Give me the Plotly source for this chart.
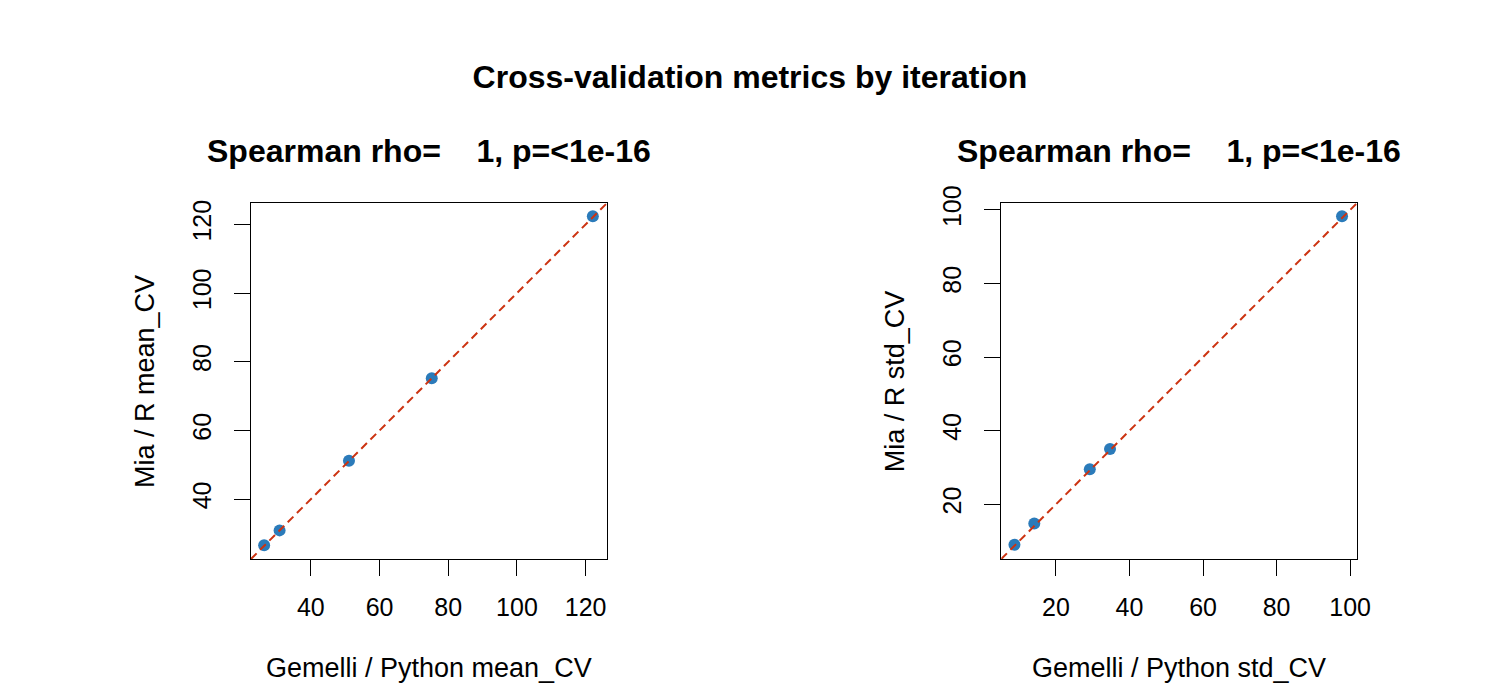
import plotly.graph_objects as go

# values
mean_python = [26.4, 30.9, 51.1, 75.2, 122.1]
mean_r = [26.6, 30.9, 51.2, 75.2, 122.4]
std_python = [8.7, 14.1, 29.2, 34.7, 97.8]
std_r = [9.0, 14.8, 29.5, 35.0, 98.3]

mean_ticks = [40, 60, 80, 100, 120]
std_ticks = [20, 40, 60, 80, 100]

panel_titles = ['Spearman rho=\u00a0\u00a0\u00a0\u00a01, p=<1e-16',
                'Spearman rho=\u00a0\u00a0\u00a0\u00a01, p=<1e-16']
x_labels = ['Gemelli / Python mean_CV', 'Gemelli / Python std_CV']
y_labels = ['Mia / R mean_CV', 'Mia / R std_CV']

FONT = 'Liberation Sans, Arial, sans-serif'
BLUE = '#2b7bba'
RED = '#cc3311'


def lims(a, b):
    lo = min(min(a), min(b))
    hi = max(max(a), max(b))
    d = (hi - lo) * 0.04
    return [lo - d, hi + d]


fig = go.Figure()

panels = [
    (mean_python, mean_r, mean_ticks, [0.1673, 0.4047]),
    (std_python, std_r, std_ticks, [0.6675, 0.9047]),
]
ydom = [0.2014, 0.71]

for i, (xv, yv, ticks, xdom) in enumerate(panels):
    n = '' if i == 0 else str(i + 1)
    lim = lims(xv, yv)
    fig.add_scatter(x=xv, y=yv, mode='markers', xaxis='x' + n, yaxis='y' + n,
                    marker=dict(color=BLUE, size=12), showlegend=False)
    # identity line y = x
    fig.add_scatter(x=lim, y=lim, mode='lines', xaxis='x' + n, yaxis='y' + n,
                    line=dict(color=RED, width=2, dash='8px,5px'), showlegend=False)
    axis = dict(range=lim, tickvals=ticks, showgrid=False, zeroline=False,
                showline=True, mirror=True, linecolor='black', linewidth=1,
                ticks='outside', ticklen=16, tickcolor='black', tickwidth=1,
                automargin=False,
                tickfont=dict(family=FONT, size=25, color='black'))
    fig.layout['xaxis' + n] = dict(axis, domain=xdom, anchor='y' + n, ticklabelstandoff=10)
    fig.layout['yaxis' + n] = dict(axis, domain=ydom, anchor='x' + n, tickangle=-90,
                                   ticklabelstandoff=13)

    xc = (xdom[0] + xdom[1]) / 2
    fig.add_annotation(text='<b>' + panel_titles[i] + '</b>', x=xc, y=1 - 151 / 700,
                       xref='paper', yref='paper', showarrow=False,
                       xanchor='center', yanchor='middle',
                       font=dict(family=FONT, size=32, color='black'))
    fig.add_annotation(text=x_labels[i], x=xc, y=1 - 668 / 700,
                       xref='paper', yref='paper', showarrow=False,
                       xanchor='center', yanchor='middle',
                       font=dict(family=FONT, size=27, color='black'))
    fig.add_annotation(text=y_labels[i], x=xdom[0] - 106 / 1500, y=(ydom[0] + ydom[1]) / 2,
                       xref='paper', yref='paper', showarrow=False, textangle=-90,
                       xanchor='center', yanchor='middle',
                       font=dict(family=FONT, size=27, color='black'))

fig.update_layout(
    width=1500, height=700,
    margin=dict(l=0, r=0, t=0, b=0),
    paper_bgcolor='white', plot_bgcolor='white',
    title=dict(text='<b>Cross-validation metrics by iteration</b>', x=0.5, xanchor='center',
               y=1 - 77 / 700, yanchor='middle',
               font=dict(family=FONT, size=32, color='black')),
)

config = {'displayModeBar': False}
fig.write_html('out.html', config=config, post_script="document.body.style.margin='0';")
